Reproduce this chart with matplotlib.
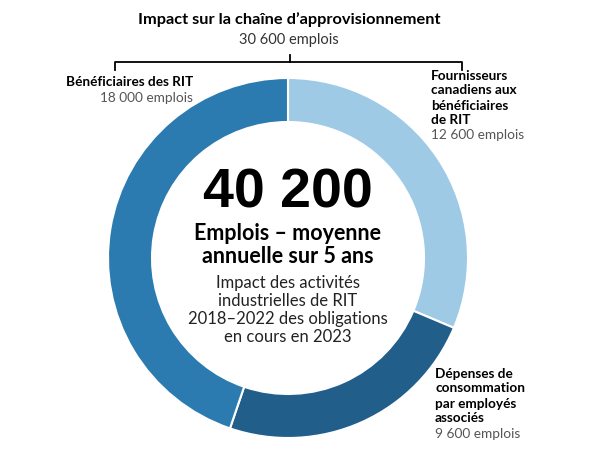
import matplotlib.pyplot as plt

# Data
labels = ['Fournisseurs\ncanadiens aux\nbénéficiaires\nde RIT',
          'Dépenses de\nconsommation\npar employés\nassociés',
          'Bénéficiaires des RIT']
values = [12600, 9600, 18000]
value_text = ['12 600 emplois', '9 600 emplois', '18 000 emplois']
colors = ['#9ecae6', '#215f8a', '#2b7bb0']
total_text = '40 200'
chain_title = 'Impact sur la chaîne d\u2019approvisionnement'
chain_text = '30 600 emplois'

H = 450
FONT = 'Lato'

fig = plt.figure(figsize=(6, 4.5), dpi=100)
ax = fig.add_axes([0, 0, 1, 1])

# Donut
ax.pie(values, colors=colors, startangle=90, counterclock=False,
       center=(288, H - 258), radius=180,
       wedgeprops=dict(width=44, edgecolor='white', linewidth=1.5))

ax.set_xlim(0, 600)
ax.set_ylim(0, H)
ax.set_aspect('equal')
ax.axis('off')


def txt(x, y, s, **kw):
    kw.setdefault('family', FONT)
    ax.text(x, H - y, s, **kw)


# Bracket above the chart
bx0, bx1, by = 115, 462, 62
ax.plot([bx0, bx0, bx1, bx1], [H - 70, H - by, H - by, H - 70], color='black', lw=1.3)
ax.plot([290, 290], [H - by, H - 55], color='black', lw=1.3)

txt(289, 20, chain_title, ha='center', va='center', fontsize=11.8, fontweight='bold')
txt(289, 40, chain_text, ha='center', va='center', fontsize=10.5, color='#333333')

# Labels around the donut
txt(193, 82, labels[2], ha='right', va='center', fontsize=9.8, fontweight='bold')
txt(193, 98, value_text[2], ha='right', va='center', fontsize=9.8, color='#555555')

txt(431, 98, labels[0], ha='left', va='center', fontsize=9.8, fontweight='bold',
    linespacing=1.3)
txt(431, 135, value_text[0], ha='left', va='center', fontsize=9.8, color='#555555')

txt(435, 396, labels[1], ha='left', va='center', fontsize=9.8, fontweight='bold',
    linespacing=1.3)
txt(435, 434, value_text[1], ha='left', va='center', fontsize=9.8, color='#555555')

# Centre text
txt(288, 193, total_text, ha='center', va='center', fontsize=40, fontweight='bold',
    family='Liberation Sans')
txt(288, 245, 'Emplois \u2013 moyenne\nannuelle sur 5 ans', ha='center', va='center',
    fontsize=15.5, fontweight='bold', linespacing=1.15)
txt(288, 310, 'Impact des activités\nindustrielles de RIT\n2018\u20132022 des obligations\nen cours en 2023',
    ha='center', va='center', fontsize=12, linespacing=1.15, color='#222222')

fig.savefig('out.png', dpi=100, facecolor='white')
